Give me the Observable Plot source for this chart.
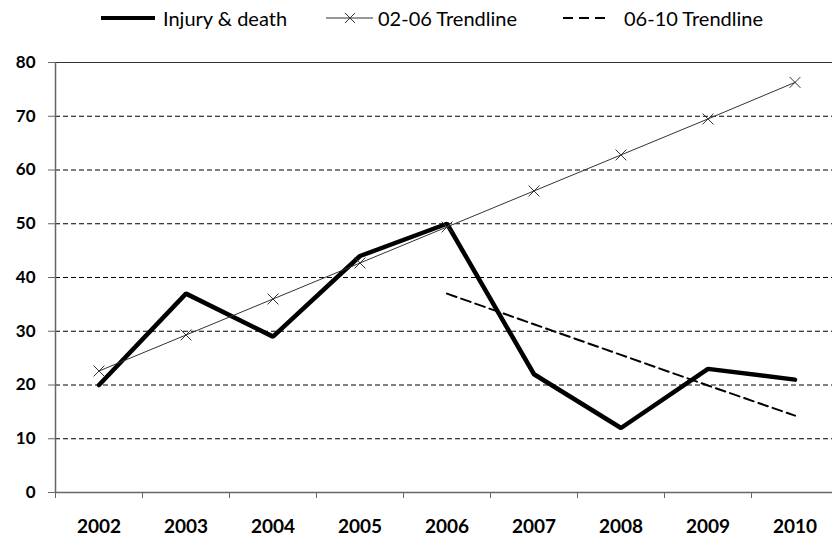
<!DOCTYPE html>
<html><head><meta charset="utf-8">
<script src="https://cdn.jsdelivr.net/npm/d3@7"></script>
<script src="https://cdn.jsdelivr.net/npm/@observablehq/plot@0.6"></script>
<style>
html,body{margin:0;padding:0;overflow:hidden;background:#fff;width:832px;height:538px}
#legend{position:relative;height:40px;font-family:Lato,sans-serif;font-size:20px;color:#000}
.item{position:absolute;top:0;height:35px;display:flex;align-items:center;white-space:nowrap}
.item svg{display:block}
#chart svg{display:block}
</style></head><body>
<div id="legend"></div>
<div id="chart"></div>
<script>
const years = [2002, 2003, 2004, 2005, 2006, 2007, 2008, 2009, 2010];
const injury = [20, 37, 29, 44, 50, 22, 12, 23, 21];
const trend0206 = [22.6, 29.3, 36.0, 42.7, 49.4, 56.1, 62.8, 69.5, 76.3];
const trend0610Years = [2006, 2007, 2008, 2009, 2010];
const trend0610 = [37.0, 31.3, 25.6, 19.9, 14.3];
const yTicks = [0, 10, 20, 30, 40, 50, 60, 70, 80];
const seriesNames = ["Injury & death", "02-06 Trendline", "06-10 Trendline"];

const injuryData = years.map((year, i) => ({year, value: injury[i]}));
const t1Data = years.map((year, i) => ({year, value: trend0206[i]}));
const t2Data = trend0610Years.map((year, i) => ({year, value: trend0610[i]}));
const boundaries = [...years.map(y => y - 0.5), years[years.length - 1] + 0.5];

// Legend (HTML above the SVG)
const legend = document.getElementById("legend");
const legendItems = [
  {left: 101, sample: `<svg width="54" height="12"><line x1="0" x2="54" y1="6" y2="6" stroke="#000" stroke-width="4"/></svg>`, gap: 8},
  {left: 326, sample: `<svg width="47" height="12"><line x1="0" x2="47" y1="6" y2="6" stroke="#333" stroke-width="1"/><path d="M19,1L29,11M29,1L19,11" stroke="#333" stroke-width="1"/></svg>`, gap: 5},
  {left: 563, sample: `<svg width="46" height="12"><line x1="0" x2="46" y1="6" y2="6" stroke="#000" stroke-width="2" stroke-dasharray="10,6"/></svg>`, gap: 15}
];
legendItems.forEach((it, i) => {
  const d = document.createElement("div");
  d.className = "item";
  d.style.left = it.left + "px";
  d.innerHTML = it.sample + `<span style="margin-left:${it.gap}px">${seriesNames[i].replace("&", "&amp;")}</span>`;
  legend.appendChild(d);
});

const plot = Plot.plot({
  width: 832,
  height: 498,
  marginTop: 22,
  marginBottom: 46,
  marginLeft: 55,
  marginRight: 0,
  x: {type: "linear", domain: [years[0] - 0.5, years[years.length - 1] + 0.5], range: [55, 838]},
  y: {domain: [0, 80], range: [452, 22]},
  style: {fontFamily: "Lato, sans-serif", background: "white", color: "#000"},
  marks: [
    Plot.ruleY(yTicks.filter(d => d > 0 && d < 80), {stroke: "#000", strokeWidth: 1.1, strokeDasharray: "5,3"}),
    Plot.ruleY([80], {stroke: "#333", strokeWidth: 1.2}),
    Plot.ruleX([boundaries[0]], {stroke: "#666", strokeWidth: 1.5}),
    Plot.ruleY([0], {stroke: "#666", strokeWidth: 1.5}),
    Plot.axisY({ticks: yTicks, tickSize: 7, tickPadding: 13, fontSize: 17, fontWeight: "bold", stroke: "#666", label: null, tickFormat: d => String(d)}),
    Plot.axisX({ticks: boundaries, tickSize: 6, tickFormat: () => "", stroke: "#666", label: null}),
    Plot.axisX({ticks: years, tickSize: 0, tickPadding: 27, fontSize: 19, fontWeight: "bold", label: null, tickFormat: d => String(d)}),
    Plot.line(injuryData, {x: "year", y: "value", stroke: "#000", strokeWidth: 4.5, strokeLinejoin: "miter"}),
    Plot.line(t1Data, {x: "year", y: "value", stroke: "#333", strokeWidth: 1}),
    Plot.dot(t1Data, {x: "year", y: "value", symbol: "times", r: 5, stroke: "#333", strokeWidth: 1}),
    Plot.line(t2Data, {x: "year", y: "value", stroke: "#000", strokeWidth: 2, strokeDasharray: "10,5"})
  ]
});
document.getElementById("chart").appendChild(plot);
</script>
</body></html>
